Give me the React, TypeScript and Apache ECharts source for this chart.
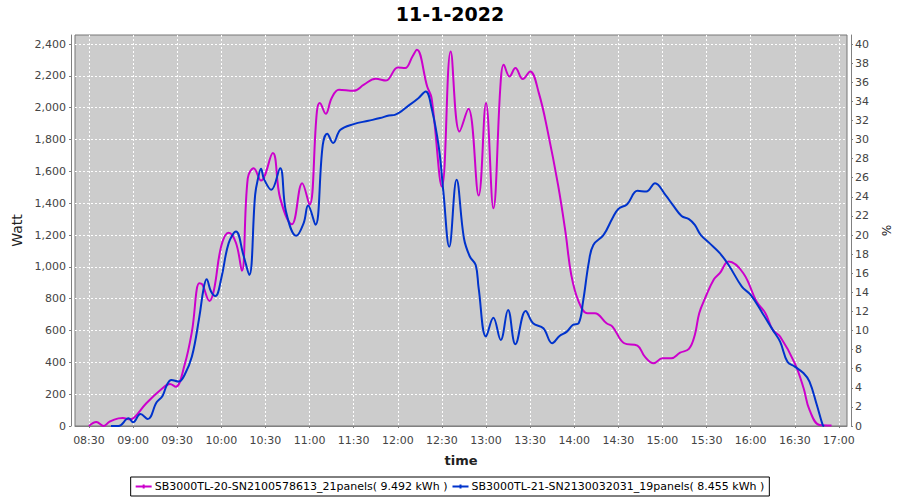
import React, { useEffect, useRef } from "react";
import * as echarts from "echarts";

const TITLE = "11-1-2022";
const SERIES_A_NAME = "SB3000TL-20-SN2100578613_21panels( 9.492 kWh )";
const SERIES_B_NAME = "SB3000TL-21-SN2130032031_19panels( 8.455 kWh )";
const X_NAME = "time";
const Y_LEFT_NAME = "Watt";
const Y_RIGHT_NAME = "%";

const timesA = [
  "08:30", "08:35", "08:40", "08:44", "08:50", "08:53", "08:58", "09:01", "09:09", "09:20",
  "09:25", "09:29", "09:35", "09:40", "09:45", "09:47", "09:52", "09:55", "10:00", "10:05",
  "10:10", "10:14", "10:18", "10:22", "10:27", "10:35", "10:40", "10:48", "10:55", "11:00",
  "11:05", "11:07", "11:11", "11:15", "11:20", "11:30", "11:37", "11:45", "11:52", "12:00",
  "12:05", "12:10", "12:13", "12:20", "12:23", "12:30", "12:36", "12:42", "12:48", "12:55",
  "13:00", "13:05", "13:10", "13:12", "13:16", "13:20", "13:25", "13:30", "13:36", "13:42",
  "13:49", "13:54", "13:58", "14:03", "14:09", "14:14", "14:22", "14:26", "14:34", "14:43",
  "14:48", "14:54", "15:00", "15:06", "15:12", "15:18", "15:22", "15:25", "15:29", "15:35",
  "15:39", "15:45", "15:55", "16:04", "16:10", "16:15", "16:20", "16:30", "16:36", "16:40",
  "16:47", "16:55",
];
const valuesA = [
  0, 25, 0, 27, 48, 50, 42, 55, 143, 237,
  264, 247, 383, 593, 897, 890, 786, 855, 1132, 1215,
  1150, 975, 1557, 1620, 1542, 1715, 1432, 1268, 1526, 1390,
  1976, 2029, 1962, 2060, 2113, 2106, 2145, 2182, 2171, 2253,
  2249, 2322, 2364, 2133, 2060, 1505, 2354, 1850, 1993, 1448,
  2029, 1369, 2165, 2270, 2196, 2249, 2180, 2228, 2090, 1850,
  1515, 1222, 949, 782, 709, 709, 646, 625, 520, 505,
  436, 394, 426, 426, 461, 484, 572, 709, 803, 922,
  960, 1033, 960, 782, 709, 604, 562, 394, 237, 101,
  6, 3,
];

const timesB = [
  "08:45", "08:50", "08:57", "09:00", "09:05", "09:10", "09:16", "09:20", "09:23", "09:26",
  "09:31", "09:35", "09:40", "09:45", "09:48", "09:50", "09:53", "09:56", "10:00", "10:05",
  "10:10", "10:15", "10:19", "10:23", "10:25", "10:27", "10:29", "10:34", "10:40", "10:44",
  "10:51", "10:56", "10:59", "11:04", "11:09", "11:12", "11:16", "11:21", "11:30", "11:40",
  "11:48", "11:54", "11:58", "12:08", "12:14", "12:19", "12:23", "12:28", "12:31", "12:35",
  "12:40", "12:45", "12:49", "12:53", "12:55", "13:00", "13:05", "13:10", "13:15", "13:20",
  "13:27", "13:32", "13:39", "13:45", "13:50", "13:55", "13:59", "14:03", "14:06", "14:10",
  "14:13", "14:20", "14:26", "14:30", "14:36", "14:43", "14:49", "14:55", "15:02", "15:07",
  "15:13", "15:18", "15:22", "15:26", "15:32", "15:39", "15:45", "15:54", "16:00", "16:08",
  "16:15", "16:20", "16:25", "16:30", "16:36", "16:40", "16:45", "16:49", "16:50",
];
const valuesB = [
  0, 0, 48, 23, 75, 44, 149, 189, 258, 289,
  279, 321, 436, 683, 866, 922, 845, 817, 929, 1149,
  1222, 1075, 949, 1452, 1557, 1616, 1553, 1484, 1620, 1347,
  1195, 1275, 1385, 1264, 1767, 1836, 1778, 1861, 1897, 1918,
  1935, 1951, 1955, 2018, 2060, 2102, 1998, 1746, 1473, 1127,
  1547, 1180, 1065, 1012, 866, 562, 681, 541, 729, 514,
  723, 646, 614, 520, 566, 593, 635, 646, 782, 1033,
  1138, 1201, 1306, 1364, 1394, 1478, 1473, 1526, 1452, 1390,
  1320, 1300, 1264, 1201, 1149, 1086, 1012, 876, 824, 709,
  604, 530, 404, 373, 331, 279, 132, 6, 0,
];

const X_TICKS = [
  "08:30", "09:00", "09:30", "10:00", "10:30", "11:00", "11:30", "12:00", "12:30",
  "13:00", "13:30", "14:00", "14:30", "15:00", "15:30", "16:00", "16:30", "17:00",
];
const X_MIN = "08:20:30";
const X_MAX = "17:05:30";
const WATT_MAX = 2457;
const WATT_STEP = 200;
const PCT_MAX = 40.95;
const PCT_STEP = 2;

const FONT = "DejaVu Sans";

// minutes since midnight
function toMin(hms: string): number {
  const p = hms.split(":").map(Number);
  return p[0] * 60 + p[1] + (p[2] || 0) / 60;
}
function pad(n: number) {
  return n < 10 ? "0" + n : "" + n;
}
function fmtMin(v: number) {
  const m = Math.round(v);
  return pad(Math.floor(m / 60)) + ":" + pad(m % 60);
}
function zip(times: string[], values: number[]) {
  return times.map((t, i) => [toMin(t), values[i]]);
}

export default function App() {
  const ref = useRef<HTMLDivElement>(null);
  useEffect(() => {
    if (!ref.current) return;
    const chart = echarts.init(ref.current, null, { renderer: "svg" });
    const axisGray = "#808080";
    const tickLabel = { color: "#444", fontSize: 11, fontFamily: FONT };
    const grid = { color: "#ffffff", type: [2, 2] as number[], width: 1 };
    const xTickValues = X_TICKS.map(toMin);
    chart.setOption({
      animation: false,
      backgroundColor: "#ffffff",
      textStyle: { fontFamily: FONT },
      title: {
        text: TITLE,
        left: "center",
        top: -1,
        textStyle: { fontFamily: FONT, fontSize: 19, fontWeight: "bold", color: "#000" },
      },
      grid: {
        left: 75,
        right: 53,
        top: 35,
        bottom: 74,
        show: true,
        backgroundColor: "#cccccc",
        borderColor: "#777777",
        borderWidth: 1,
      },
      legend: {
        data: [SERIES_A_NAME, SERIES_B_NAME],
        left: "center",
        top: 477,
        orient: "horizontal",
        borderColor: "#000",
        borderWidth: 1,
        padding: [4, 5],
        itemGap: 5,
        itemWidth: 16,
        itemHeight: 4,
        icon: "path://M0,3L16,3L16,5L0,5Z M7,2L9,2L9,6L7,6Z",
        textStyle: { fontFamily: FONT, fontSize: 11, color: "#000", padding: [0, 0, 0, -2] },
      },
      xAxis: {
        type: "value",
        min: toMin(X_MIN),
        max: toMin(X_MAX),
        offset: 4,
        name: X_NAME,
        nameLocation: "middle",
        nameGap: 24,
        nameTextStyle: { fontFamily: FONT, fontSize: 13, fontWeight: "bold", color: "#222" },
        axisLine: { show: true, lineStyle: { color: axisGray } },
        axisTick: { show: true, length: 2, lineStyle: { color: axisGray }, customValues: xTickValues },
        axisLabel: {
          ...tickLabel,
          margin: 5,
          customValues: xTickValues,
          formatter: (v: number) => fmtMin(v),
        },
        splitLine: { show: true, lineStyle: grid },
      },
      yAxis: [
        {
          type: "value",
          position: "left",
          min: 0,
          max: WATT_MAX,
          interval: WATT_STEP,
          offset: 4,
          name: Y_LEFT_NAME,
          nameLocation: "middle",
          nameGap: 42,
          nameTextStyle: { fontFamily: FONT, fontSize: 14, color: "#222" },
          axisLine: { show: true, lineStyle: { color: axisGray } },
          axisTick: { show: true, length: 2, lineStyle: { color: axisGray } },
          axisLabel: {
            ...tickLabel,
            margin: 5,
            showMaxLabel: false,
            formatter: (v: number) => v.toLocaleString("en-US"),
          },
          splitLine: { show: true, showMinLine: false, showMaxLine: false, lineStyle: grid },
        },
        {
          type: "value",
          position: "right",
          min: 0,
          max: PCT_MAX,
          interval: PCT_STEP,
          offset: 4,
          name: Y_RIGHT_NAME,
          nameLocation: "middle",
          nameGap: 25,
          nameRotate: -90,
          nameTextStyle: { fontFamily: FONT, fontSize: 12, color: "#222" },
          axisLine: { show: true, lineStyle: { color: axisGray } },
          axisTick: { show: true, length: 2, lineStyle: { color: axisGray } },
          axisLabel: { ...tickLabel, margin: 4, showMaxLabel: false },
          splitLine: { show: false },
        },
      ],
      series: [
        {
          name: SERIES_A_NAME,
          type: "line",
          yAxisIndex: 0,
          data: zip(timesA, valuesA),
          smooth: 0.4,
          showSymbol: false,
          color: "#cc00cc",
          lineStyle: { width: 2, color: "#cc00cc" },
        },
        {
          name: SERIES_B_NAME,
          type: "line",
          yAxisIndex: 0,
          data: zip(timesB, valuesB),
          smooth: 0.4,
          showSymbol: false,
          color: "#0033cc",
          lineStyle: { width: 2, color: "#0033cc" },
        },
      ],
    });
    return () => chart.dispose();
  }, []);
  return (
    <div
      ref={ref}
      style={{ position: "fixed", left: 0, top: 0, width: 900, height: 500, background: "#fff" }}
    />
  );
}
